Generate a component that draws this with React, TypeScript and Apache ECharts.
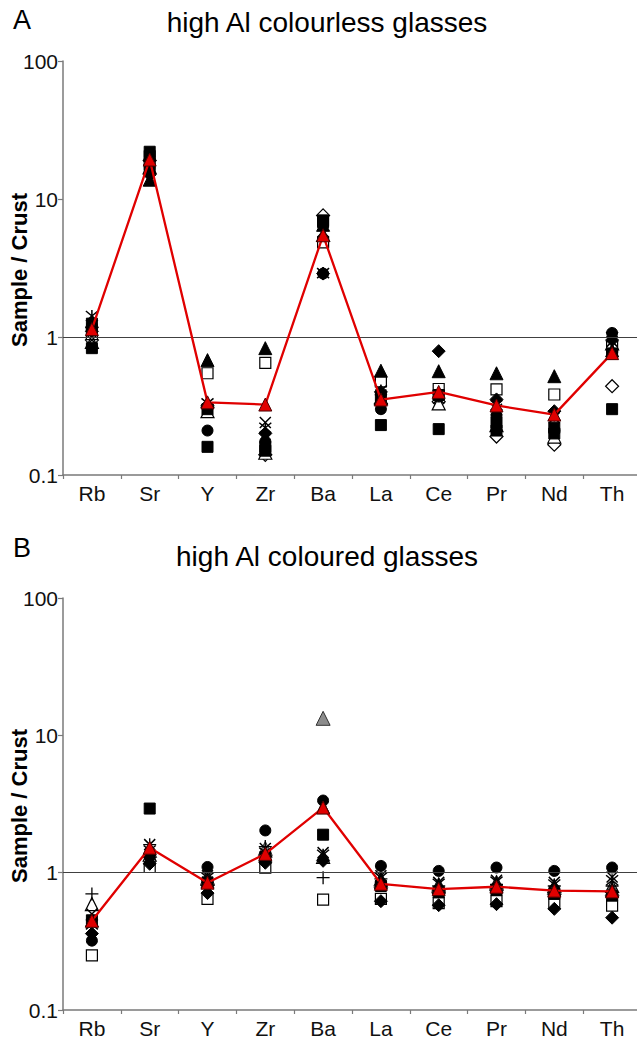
import React, { useEffect, useRef } from "react";
import * as echarts from "echarts";

// ---------- data ----------
const categories = ["Rb", "Sr", "Y", "Zr", "Ba", "La", "Ce", "Pr", "Nd", "Th"];
const yTickValues = [0.1, 1, 10, 100];
const titleA = "high Al colourless glasses";
const titleB = "high Al coloured glasses";
const yAxisTitle = "Sample / Crust";

// Panel A – high Al colourless glasses (Sample / Crust)
const A_filledSquare = [0.83, 22, 0.16, 0.15, 7.0, 0.23, 0.215, 0.21, 0.2, 0.3];
const A_filledSquare2 = [1.25, 20.5, 0.3, 0.16, 6.8, 0.37, 0.38, 0.24, 0.22, 0.76];
const A_filledTriangle = [1.3, 13.8, 0.68, 0.83, 6.5, 0.57, 0.565, 0.546, 0.52, 0.8];
const A_openSquare = [1.05, 18, 0.546, 0.65, 4.85, 0.477, 0.42, 0.417, 0.383, 0.85];
const A_filledCircle = [1.2, 16, 0.21, 0.175, 2.88, 0.3, 0.37, 0.27, 0.21, 1.07];
const A_filledDiamond = [1.1, 15, 0.32, 0.2, 2.88, 0.4, 0.79, 0.353, 0.29, 0.95];
const A_openDiamond = [0.95, 19, 0.31, 0.14, 7.6, 0.33, 0.34, 0.19, 0.166, 0.44];
const A_openTriangle = [0.92, 17, 0.29, 0.145, 5.5, 0.36, 0.33, 0.23, 0.19, 0.9];
const A_cross = [0.95, 18.5, 0.3, 0.24, 5.8, 0.38, 0.36, 0.3, 0.26, 0.93];
const A_asterisk = [1.42, 16.5, 0.33, 0.22, 2.9, 0.41, 0.38, 0.32, 0.27, 1.0];
const A_mean = [1.14, 19.3, 0.336, 0.324, 5.46, 0.352, 0.4, 0.319, 0.274, 0.764];

// Panel B – high Al coloured glasses (Sample / Crust)
const B_filledSquare = [0.45, 2.93, 0.85, 1.3, 1.89, 0.8, 0.72, 0.75, 0.7, 0.68];
const B_filledTriangle = [0.45, 1.5, 0.86, 1.35, 3.0, 0.85, 0.78, 0.8, 0.75, 0.74];
const B_openSquare = [0.25, 1.1, 0.645, 1.09, 0.636, 0.645, 0.6, 0.62, 0.6, 0.575];
const B_filledCircle = [0.32, 1.3, 1.1, 2.03, 3.35, 1.12, 1.03, 1.09, 1.03, 1.09];
const B_filledDiamond = [0.36, 1.16, 0.71, 1.18, 1.22, 0.62, 0.58, 0.59, 0.545, 0.47];
const B_openTriangle = [0.59, 1.35, 0.9, 1.45, 1.3, 0.9, 0.82, 0.85, 0.8, 0.8];
const B_grayTriangle = [null, 1.45, 0.92, 1.5, 13.3, 0.88, 0.8, 0.83, 0.78, 0.76];
const B_cross = [0.5, 1.6, 0.95, 1.5, 1.4, 0.95, 0.85, 0.88, 0.85, 0.93];
const B_asterisk = [0.42, 1.45, 0.92, 1.4, 1.35, 0.92, 0.83, 0.86, 0.82, 0.88];
const B_plus = [0.7, 1.6, 0.88, 1.55, 0.92, 0.9, 0.8, 0.82, 0.8, 0.8];
const B_mean = [0.446, 1.52, 0.845, 1.37, 2.98, 0.83, 0.76, 0.79, 0.74, 0.73];

// ---------- styles ----------
const CROSS = "path://M0,0L10,10M10,0L0,10";
const ASTER = "path://M0,0L10,10M10,0L0,10M5,-1L5,11";
const PLUS = "path://M5,0L5,10M0,5L10,5";

type MStyle = { symbol: string; size: number; color: string; border: string; bw: number };
const M: Record<string, MStyle> = {
  filledSquare: { symbol: "rect", size: 11, color: "#000", border: "#000", bw: 1 },
  openSquare: { symbol: "rect", size: 11, color: "#fff", border: "#000", bw: 1.2 },
  filledTriangle: { symbol: "triangle", size: 13, color: "#000", border: "#000", bw: 1 },
  openTriangle: { symbol: "triangle", size: 13, color: "#fff", border: "#000", bw: 1.2 },
  grayTriangle: { symbol: "triangle", size: 14, color: "#8c8c8c", border: "#333", bw: 1 },
  filledCircle: { symbol: "circle", size: 11, color: "#000", border: "#000", bw: 1 },
  filledDiamond: { symbol: "diamond", size: 13, color: "#000", border: "#000", bw: 1 },
  openDiamond: { symbol: "diamond", size: 13, color: "#fff", border: "#000", bw: 1.2 },
  cross: { symbol: CROSS, size: 11, color: "none", border: "#000", bw: 1.5 },
  asterisk: { symbol: ASTER, size: 12, color: "none", border: "#000", bw: 1.5 },
  plus: { symbol: PLUS, size: 13, color: "none", border: "#000", bw: 1.3 },
};

const FONT = "'Liberation Sans', Arial, sans-serif";

function sampleSeries(name: string, values: (number | null)[], g: number, style: MStyle) {
  return {
    name,
    type: "scatter",
    xAxisIndex: g,
    yAxisIndex: g,
    z: 3,
    symbol: style.symbol,
    symbolSize: style.size,
    itemStyle: { color: style.color, borderColor: style.border, borderWidth: style.bw, opacity: 1 },
    data: values.map((v, i) => (v == null ? null : [categories[i], v])).filter((d) => d != null),
  };
}

function meanSeries(values: number[], g: number) {
  return {
    name: "mean",
    type: "line",
    xAxisIndex: g,
    yAxisIndex: g,
    z: 5,
    data: values.map((v, i) => [categories[i], v]),
    lineStyle: { color: "#e00000", width: 2.3 },
    symbol: "triangle",
    symbolSize: 13,
    itemStyle: { color: "#e00000", borderColor: "#500000", borderWidth: 1 },
  };
}

function refLine(g: number) {
  return {
    type: "line",
    xAxisIndex: g,
    yAxisIndex: g,
    z: 1,
    data: [],
    markLine: {
      silent: true,
      symbol: ["none", "none"],
      label: { show: false },
      lineStyle: { color: "#404040", width: 1.2, type: "solid" },
      data: [{ yAxis: 1 }],
    },
  };
}

function xAxis(g: number) {
  return {
    type: "category",
    gridIndex: g,
    data: categories,
    boundaryGap: true,
    axisLine: { lineStyle: { color: "#7a7a7a", width: 1.5 } },
    axisTick: { show: true, length: 4, lineStyle: { color: "#7a7a7a", width: 1.2 } },
    axisLabel: { fontSize: 21, color: "#111", margin: 8, fontFamily: FONT },
    splitLine: { show: false },
  };
}

function yAxis(g: number) {
  return {
    type: "log",
    gridIndex: g,
    logBase: 10,
    min: yTickValues[0],
    max: yTickValues[yTickValues.length - 1],
    axisLine: { show: true, lineStyle: { color: "#7a7a7a", width: 1.5 } },
    axisTick: { show: true, length: 5, lineStyle: { color: "#7a7a7a", width: 1.2 } },
    axisLabel: {
      fontSize: 21,
      color: "#111",
      margin: 5,
      fontFamily: FONT,
      formatter: (v: number) => String(Number(v.toPrecision(3))),
    },
    splitLine: { show: false },
    minorTick: { show: false },
  };
}

function yTitle(cy: number) {
  return {
    type: "text",
    x: 19,
    y: cy,
    rotation: Math.PI / 2,
    style: {
      text: yAxisTitle,
      fontSize: 22,
      fontWeight: "bold",
      fontFamily: FONT,
      fill: "#000",
      align: "center",
      verticalAlign: "middle",
    },
  };
}

export default function App() {
  const ref = useRef<HTMLDivElement>(null);
  useEffect(() => {
    document.body.style.margin = "0";
    if (!ref.current) return;
    const chart = echarts.init(ref.current, undefined, { renderer: "svg" });
    const series: any[] = [
      refLine(0),
      sampleSeries("A1", A_openDiamond, 0, M.openDiamond),
      sampleSeries("A2", A_openTriangle, 0, M.openTriangle),
      sampleSeries("A3", A_openSquare, 0, M.openSquare),
      sampleSeries("A4", A_filledSquare, 0, M.filledSquare),
      sampleSeries("A5", A_filledSquare2, 0, M.filledSquare),
      sampleSeries("A6", A_filledTriangle, 0, M.filledTriangle),
      sampleSeries("A7", A_filledCircle, 0, M.filledCircle),
      sampleSeries("A8", A_filledDiamond, 0, M.filledDiamond),
      sampleSeries("A9", A_cross, 0, M.cross),
      sampleSeries("A10", A_asterisk, 0, M.asterisk),
      meanSeries(A_mean, 0),
      refLine(1),
      sampleSeries("B1", B_openSquare, 1, M.openSquare),
      sampleSeries("B2", B_openTriangle, 1, M.openTriangle),
      sampleSeries("B3", B_grayTriangle, 1, M.grayTriangle),
      sampleSeries("B4", B_filledSquare, 1, M.filledSquare),
      sampleSeries("B5", B_filledTriangle, 1, M.filledTriangle),
      sampleSeries("B6", B_filledCircle, 1, M.filledCircle),
      sampleSeries("B7", B_filledDiamond, 1, M.filledDiamond),
      sampleSeries("B8", B_cross, 1, M.cross),
      sampleSeries("B9", B_asterisk, 1, M.asterisk),
      sampleSeries("B10", B_plus, 1, M.plus),
      meanSeries(B_mean, 1),
    ];
    chart.setOption({
      animation: false,
      backgroundColor: "#fff",
      textStyle: { fontFamily: FONT },
      grid: [
        { left: 63, right: -4, top: 61, height: 414, outerBoundsMode: "none", containLabel: false },
        { left: 63, right: -4, top: 598, height: 412, outerBoundsMode: "none", containLabel: false },
      ],
      xAxis: [xAxis(0), xAxis(1)],
      yAxis: [yAxis(0), yAxis(1)],
      graphic: [
        { type: "text", x: 22, y: 20, style: { text: "A", fontSize: 27, fontFamily: FONT, fill: "#000", align: "center", verticalAlign: "middle" } },
        { type: "text", x: 327, y: 22, style: { text: titleA, fontSize: 28, fontFamily: FONT, fill: "#000", align: "center", verticalAlign: "middle" } },
        { type: "text", x: 22, y: 548, style: { text: "B", fontSize: 27, fontFamily: FONT, fill: "#000", align: "center", verticalAlign: "middle" } },
        { type: "text", x: 327, y: 556, style: { text: titleB, fontSize: 28, fontFamily: FONT, fill: "#000", align: "center", verticalAlign: "middle" } },
        yTitle(270),
        yTitle(806),
      ],
      series,
    });
    return () => chart.dispose();
  }, []);
  return <div ref={ref} style={{ width: 637, height: 1041 }} />;
}
